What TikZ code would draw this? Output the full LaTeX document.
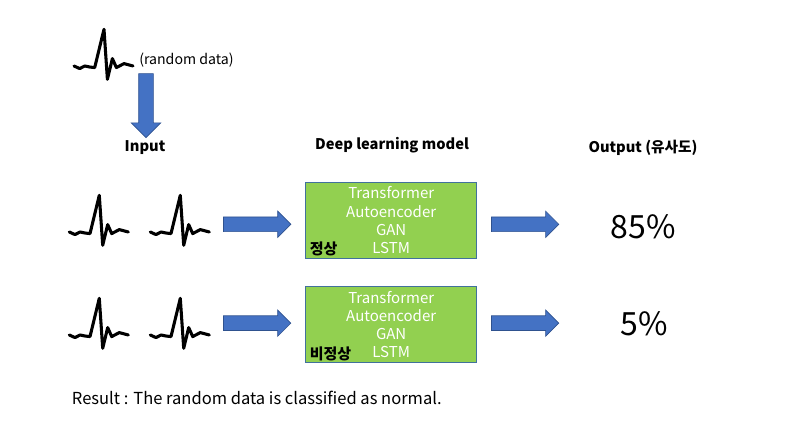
\documentclass[tikz,border=0pt]{standalone}
\usepackage{fontspec}
\setmainfont{Noto Sans CJK KR}
\usetikzlibrary{shapes.arrows,positioning}
\definecolor{arrowblue}{HTML}{4472C4}
\definecolor{arrowedge}{HTML}{2F528F}
\definecolor{modelgreen}{HTML}{92D050}
\definecolor{modeledge}{HTML}{41719C}

\begin{document}
\begin{tikzpicture}[x=0.75pt,y=-0.75pt,
    ecg/.pic={\draw[line width=2.3pt,line join=round,line cap=round] (0,0) -- (5.7,2.6) -- (10.7,0) -- (15.7,1) -- (20.7,1.6) -- (30,-36.7) -- (33.4,13.3) -- (38.4,-7.4) -- (42.4,1.6) -- (50,-2.4) -- (59,0);},
    blockarrow/.style={single arrow,draw=arrowedge,fill=arrowblue,line width=0.5pt,inner xsep=0pt,inner ysep=5.25pt,minimum height=50.5pt,single arrow head extend=4.35pt},
    modelbox/.style={draw=modeledge,fill=modelgreen,line width=0.6pt,minimum width=128.25pt,minimum height=57pt,inner sep=0pt,align=center,text=white,font=\modelfontsize},
    headlabel/.style={font=\headfontsize\bfseries},
    classlabel/.style={anchor=west,inner sep=0pt,font=\modelfontsize\bfseries}]
    \providecommand{\modelfontsize}{\fontsize{11.25}{13.7}\selectfont}
    \providecommand{\headfontsize}{\fontsize{11}{13}\selectfont}
    \providecommand{\smallfontsize}{\fontsize{10.6}{12}\selectfont}
    \providecommand{\bigfontsize}{\fontsize{24}{28}\selectfont}
    \providecommand{\resultfontsize}{\fontsize{12.4}{14}\selectfont}
    \useasboundingbox (0,0) rectangle (803,448);
    % input sample
    \pic (ecgtop) at (74,66) {ecg};
    \node[font=\smallfontsize,anchor=west,inner sep=0pt] (randomlabel) at (139,60) {(random data)};
    \node[blockarrow,rotate=-90,minimum height=48pt,single arrow head extend=5.6pt] (downarrow) at (146,102) {};
    % column titles
    \node[headlabel] (inputlabel) at (145,148) {Input};
    \node[headlabel] (modellabel) at (392,145) {Deep learning model};
    \node[headlabel] (outputlabel) at (643,148) {Output (유사도)};
    % reference rows
    \pic (ecgnormA) at (69.3,232) {ecg};
    \pic (ecgnormB) at (150.3,232) {ecg};
    \pic (ecgabnA) at (69.3,335) {ecg};
    \pic (ecgabnB) at (150.3,335) {ecg};
    \node[modelbox] (modelA) at (391.2,220.3) {Transformer\\Autoencoder\\GAN\\LSTM};
    \node[modelbox] (modelB) at (391.2,324.5) {Transformer\\Autoencoder\\GAN\\LSTM};
    \node[classlabel] (normallabel) at ([xshift=3.2pt,yshift=7pt]modelA.south west) {정상};
    \node[classlabel] (abnormallabel) at ([xshift=3.2pt,yshift=7pt]modelB.south west) {비정상};
    \node[blockarrow,left=10.5pt of modelA,yshift=-3pt] (inarrowA) {};
    \node[blockarrow,left=10.5pt of modelB,yshift=1pt] (inarrowB) {};
    \node[blockarrow,right=10.5pt of modelA,yshift=-3pt] (outarrowA) {};
    \node[blockarrow,right=10.5pt of modelB,yshift=1pt] (outarrowB) {};
    \node[font=\bigfontsize] (scoreA) at (643,227) {85\%};
    \node[font=\bigfontsize] (scoreB) at (644.5,324) {5\%};
    \node[font=\resultfontsize,anchor=west,inner sep=0pt] (resultlabel) at (71.7,398) {Result : The random data is classified as normal.};
\end{tikzpicture}
\end{document}
